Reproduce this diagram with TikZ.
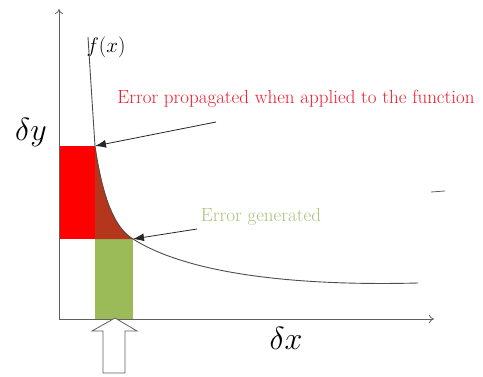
\RequirePackage{fix-cm}
\documentclass[tikz,border=0pt]{standalone}
\usepackage{fontspec}
\usetikzlibrary{arrows.meta}
\definecolor{fillred}{HTML}{FF0000}
\definecolor{fillbrown}{HTML}{B5361C}
\definecolor{fillgreen}{HTML}{9BBB59}
\definecolor{txtred}{HTML}{EE1C2E}
\definecolor{txtgreen}{HTML}{A9C27A}
\definecolor{axisgray}{HTML}{606060}
\tikzset{
  axis/.style={draw=axisgray, line width=0.8pt, -{To[length=5pt,width=8pt]}},
  curve/.style={draw=axisgray!80!black, line width=0.9pt},
  pointer/.style={draw=black!85, line width=0.8pt, -{Latex[length=11pt,width=8pt]}},
  lbl/.style={inner sep=0pt, font=\fontsize{19}{21}\selectfont\addfontfeatures{FakeBold=0.6}},
  fxlbl/.style={inner sep=0pt, font=\fontsize{21}{23}\selectfont},
  big/.style={inner sep=0pt, font=\fontsize{32}{36}\selectfont},
}
\begin{document}
\begin{tikzpicture}[x=1pt,y=-1pt]
\useasboundingbox (0,0) rectangle (483,376);
% coordinates
\coordinate (o) at (59,319);
\coordinate (ytop) at (59,9);
\coordinate (xend) at (434,319);
\coordinate (p1) at (95,146);
\coordinate (p2) at (133,239);
% fills
\fill[fillred] (59,146) rectangle (95,239);
\fill[fillgreen] (95,239) rectangle (133,319);
\fill[fillbrown] (p1) .. controls (103,200) and (115,228) .. (p2) -- (95,239) -- cycle;
% axes
\draw[axis] (o) -- (ytop);
\draw[axis] (o) -- (xend);
% curve
\draw[curve] (88,37) .. controls (92,100) .. (p1)
  .. controls (103,200) and (115,228) .. (p2)
  .. controls (190,275) and (300,286) .. (418,283);
% stray dash
\draw[axisgray, line width=0.8pt] (431,192) -- (445,191);
% labels
\node[fxlbl, anchor=center] (fx) at (106,47) {$f(x)$};
\node[lbl, text=txtred, anchor=center] (prop) at (296,99) {Error propagated when applied to the function};
\node[lbl, text=txtgreen, anchor=center] (gen) at (261,217) {Error generated};
\node[big, anchor=center] (dy) at (31,132) {$\delta y$};
\node[big, anchor=center] (dx) at (286,338) {$\delta x$};
% pointers
\coordinate (s1) at (216,122);
\coordinate (s2) at (197,229);
\draw[pointer] (s1) -- (p1);
\draw[pointer] (s2) -- (p2);
% hollow arrow
\draw[axisgray, line width=0.8pt, fill=white] (115,318) -- (137,331) -- (125,331) -- (125,373) -- (103,373) -- (103,331) -- (92,331) -- cycle;
\end{tikzpicture}
\end{document}
